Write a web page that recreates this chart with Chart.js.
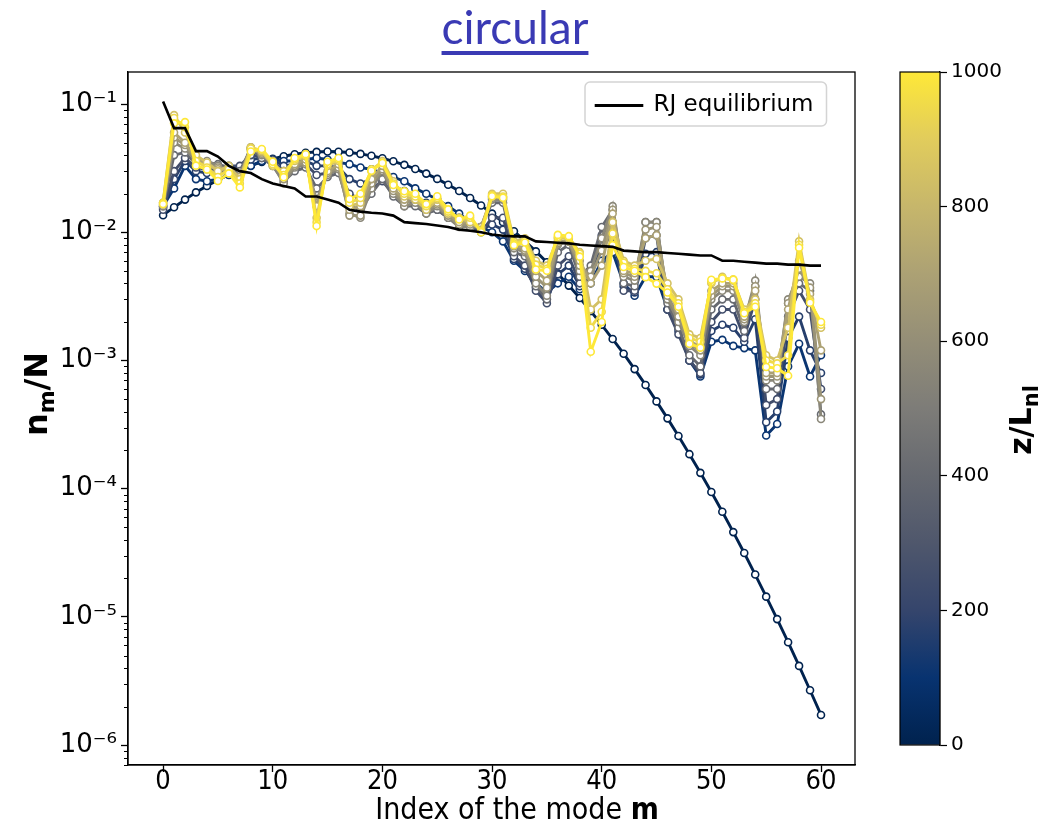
<!DOCTYPE html>
<html>
<head>
<meta charset="utf-8">
<script src="https://cdn.jsdelivr.net/npm/chart.js@4.4.1/dist/chart.umd.min.js"></script>
<style>
  body { margin: 0; background: #fff; }
  #wrap { position: relative; width: 1040px; height: 824px; }
  #title {
    position: absolute; left: 415px; top: -1px; width: 200px; text-align: center;
    font-family: Lato, 'Open Sans', sans-serif; font-size: 46px; color: #3a3ab4;
    text-decoration: underline; text-decoration-thickness: 4px; text-underline-offset: 7px;
  }
  #main { position: absolute; left: 0; top: 0; }
  #cbar { position: absolute; left: 880px; top: 0; }
</style>
</head>
<body>
<div id="wrap">
  <canvas id="main" width="880" height="824"></canvas>
  <canvas id="cbar" width="160" height="824"></canvas>
  <div id="title">circular</div>
</div>
<script>
// mode index m
const modes = [0,1,2,3,4,5,6,7,8,9,10,11,12,13,14,15,16,17,18,19,20,21,22,23,24,25,26,27,28,29,30,
  31,32,33,34,35,36,37,38,39,40,41,42,43,44,45,46,47,48,49,50,51,52,53,54,55,56,57,58,59,60];

// propagation distance z/L_nl of each curve
const zLevels = [0, 100, 175, 250, 400, 550, 625, 700, 850, 950, 1000];

// n_m/N, one array per z
const nZ0 = [0.0136,0.0157,0.0180,0.0205,0.0230,0.0256,0.0281,0.0307,0.0331,0.0354,0.0374,
  0.0392,0.0406,0.0417,0.0424,0.0427,0.0425,0.0419,0.0409,0.0395,0.0378,
  0.0358,0.0336,0.0312,0.0287,0.0261,0.0235,0.0210,0.0185,0.0162,0.0140,
  0.0120,0.0102,0.00854,0.00710,0.00584,0.00476,0.00384,0.00307,0.00243,0.00190,
  0.00147,0.00113,0.000857,0.000645,0.000480,0.000354,0.000258,0.000186,0.000133,0.0000944,
  0.0000661,0.0000459,0.0000315,0.0000214,0.0000144,0.00000962,0.00000635,0.00000415,0.00000268,0.00000172];
const nZ100 = [0.016,0.022,0.033,0.026,0.025,0.026,0.028,0.031,0.033,0.036,0.037,
  0.036,0.036,0.037,0.038,0.037,0.035,0.034,0.032,0.031,0.029,
  0.027,0.025,0.022,0.020,0.018,0.016,0.014,0.012,0.011,0.010,
  0.0085,0.0060,0.0050,0.0040,0.0034,0.0040,0.0045,0.0036,0.0040,0.0060,
  0.0070,0.0040,0.0032,0.0045,0.0045,0.0025,0.0018,0.0010,0.00075,0.0014,
  0.00145,0.0013,0.00125,0.0012,0.00026,0.00032,0.0009,0.00135,0.00075,0.0011];
const nZ175 = [0.0155,0.026,0.036,0.030,0.029,0.029,0.031,0.032,0.037,0.038,0.037,
  0.033,0.034,0.036,0.033,0.033,0.032,0.026,0.024,0.026,0.027,
  0.023,0.021,0.019,0.017,0.016,0.0145,0.013,0.0115,0.0105,0.0115,
  0.0105,0.0062,0.0052,0.0037,0.0030,0.0047,0.0055,0.0038,0.0045,0.0078,
  0.0095,0.0038,0.0034,0.0068,0.0070,0.0025,0.0017,0.0010,0.00078,0.0017,
  0.0019,0.0018,0.0014,0.0021,0.00033,0.0004,0.0015,0.0022,0.0012,0.0008];
const nZ250 = [0.015,0.030,0.038,0.032,0.031,0.031,0.033,0.033,0.040,0.039,0.036,
  0.030,0.032,0.034,0.028,0.029,0.030,0.020,0.018,0.022,0.025,
  0.020,0.018,0.017,0.015,0.015,0.013,0.012,0.011,0.010,0.013,
  0.013,0.0065,0.0055,0.0035,0.0028,0.0055,0.0065,0.0040,0.0050,0.0095,
  0.012,0.0035,0.0035,0.0090,0.0095,0.0025,0.0016,0.0010,0.0008,0.0020,
  0.0025,0.0025,0.0015,0.0030,0.00045,0.0005,0.0022,0.0035,0.0025,0.0006];
const nZ400 = [0.016,0.040,0.042,0.034,0.035,0.034,0.032,0.030,0.045,0.038,0.033,
  0.025,0.030,0.032,0.022,0.027,0.029,0.016,0.015,0.020,0.026,
  0.019,0.016,0.016,0.014,0.015,0.013,0.012,0.011,0.011,0.017,
  0.017,0.0070,0.0065,0.0038,0.0030,0.0070,0.0080,0.0045,0.0055,0.0110,
  0.015,0.0040,0.0038,0.012,0.012,0.0028,0.0018,0.0011,0.0009,0.0025,
  0.0030,0.0030,0.0017,0.0038,0.0006,0.0006,0.0028,0.0040,0.0035,0.00038];
const nZ550 = [0.016,0.050,0.045,0.036,0.036,0.033,0.030,0.028,0.046,0.040,0.034,
  0.024,0.032,0.034,0.018,0.028,0.031,0.014,0.013,0.022,0.030,
  0.020,0.016,0.017,0.014,0.016,0.013,0.011,0.011,0.011,0.018,
  0.018,0.0075,0.0070,0.0040,0.0032,0.0080,0.0085,0.0050,0.0050,0.0090,
  0.016,0.0045,0.0042,0.012,0.012,0.0030,0.0020,0.0013,0.0011,0.0030,
  0.0035,0.0035,0.0020,0.0042,0.0007,0.0007,0.0030,0.0045,0.0040,0.00035];
const nZ625 = [0.0165,0.055,0.048,0.037,0.034,0.032,0.031,0.027,0.045,0.041,0.035,
  0.026,0.033,0.035,0.017,0.029,0.032,0.0135,0.0135,0.024,0.031,
  0.021,0.017,0.018,0.015,0.0165,0.0135,0.0115,0.0115,0.011,0.0185,
  0.0185,0.0078,0.0072,0.0045,0.0037,0.0082,0.0085,0.0055,0.0045,0.0072,
  0.015,0.0048,0.0045,0.0105,0.011,0.0032,0.0022,0.00135,0.0012,0.0032,
  0.0038,0.0038,0.0021,0.0038,0.00075,0.00075,0.0028,0.0052,0.0037,0.0005];
const nZ700 = [0.017,0.060,0.050,0.038,0.033,0.031,0.030,0.027,0.044,0.042,0.036,
  0.028,0.034,0.037,0.016,0.030,0.034,0.015,0.016,0.026,0.033,
  0.022,0.018,0.019,0.016,0.017,0.014,0.012,0.012,0.011,0.019,
  0.019,0.0080,0.0075,0.0050,0.0042,0.0085,0.0085,0.0060,0.0040,0.0055,
  0.014,0.0050,0.0048,0.0090,0.0095,0.0035,0.0025,0.0014,0.0013,0.0035,
  0.0040,0.0040,0.0022,0.0035,0.0008,0.0008,0.0025,0.0060,0.0033,0.0012];
const nZ850 = [0.017,0.082,0.060,0.040,0.035,0.030,0.033,0.026,0.046,0.043,0.033,
  0.030,0.036,0.039,0.013,0.033,0.036,0.016,0.017,0.030,0.036,
  0.025,0.019,0.018,0.015,0.018,0.014,0.013,0.012,0.0105,0.020,
  0.020,0.0085,0.0090,0.0060,0.0055,0.0090,0.0090,0.0070,0.0025,0.0030,
  0.012,0.0060,0.0055,0.0060,0.0062,0.0040,0.0030,0.0016,0.0015,0.0040,
  0.0045,0.0042,0.0025,0.0030,0.0011,0.0010,0.0018,0.0085,0.0030,0.0018];
const nZ950 = [0.0170,0.078,0.066,0.036,0.032,0.027,0.031,0.024,0.045,0.044,0.034,
  0.028,0.037,0.040,0.0120,0.034,0.037,0.0170,0.0185,0.031,0.035,
  0.024,0.020,0.019,0.0160,0.0185,0.0145,0.0128,0.0130,0.0102,0.0195,
  0.0190,0.0082,0.0086,0.0056,0.0052,0.0092,0.0092,0.0068,0.0018,0.0024,
  0.0098,0.0058,0.0052,0.0050,0.0048,0.0036,0.0028,0.0015,0.0014,0.0041,
  0.0044,0.0043,0.0024,0.0028,0.0010,0.00095,0.0011,0.0080,0.0029,0.0019];
const nZ1000 = [0.0166,0.0708,0.0724,0.0331,0.0309,0.0251,0.0288,0.0224,0.0427,0.0447,0.0355,
  0.0269,0.0380,0.0407,0.0112,0.0355,0.0380,0.0182,0.0200,0.0302,0.0347,
  0.0234,0.0209,0.0200,0.0166,0.0191,0.0151,0.0126,0.0135,0.0100,0.0191,
  0.0186,0.00794,0.00832,0.00513,0.00501,0.00955,0.00933,0.00646,0.00117,0.00200,
  0.00794,0.00537,0.00501,0.00447,0.00398,0.00339,0.00263,0.00135,0.00126,0.00427,
  0.00437,0.00427,0.00234,0.00263,0.00089,0.00087,0.00076,0.00759,0.00282,0.00200];

// Rayleigh-Jeans equilibrium
const nRJ = [0.105,0.065,0.065,0.043,0.043,0.039,0.033,0.030,0.029,0.026,0.024,
  0.023,0.022,0.019,0.019,0.018,0.017,0.0150,0.0145,0.0142,0.0140,
  0.0135,0.0120,0.0118,0.0116,0.0113,0.0110,0.0105,0.0103,0.0100,0.0096,
  0.0094,0.0093,0.0093,0.0085,0.0084,0.0083,0.0082,0.0080,0.0079,0.0078,
  0.0077,0.0072,0.0071,0.0070,0.0070,0.0069,0.0068,0.0067,0.0066,0.0066,
  0.0060,0.0060,0.0059,0.0058,0.0057,0.0057,0.0056,0.0056,0.0055,0.0055];

const xTicks = [0, 10, 20, 30, 40, 50, 60];
const yTicks = [1e-6, 1e-5, 1e-4, 1e-3, 1e-2, 1e-1];
const yTickLabels = ['10⁻⁶', '10⁻⁵', '10⁻⁴', '10⁻³', '10⁻²', '10⁻¹'];
const cbarTicks = [0, 200, 400, 600, 800, 1000];

const zSeries = [nZ0, nZ100, nZ175, nZ250, nZ400, nZ550, nZ625, nZ700, nZ850, nZ950, nZ1000];
// cividis
const cividis = ['#00224e','#083370','#35456c','#4f576c','#666970','#7d7c78',
  '#948e77','#aca174','#c6b66b','#e1cc5c','#fee838'];
const zColors = ['#00224e','#0a3571','#263f6c','#414d6b','#666970','#8a8779','#9b9477',
  '#aca174','#d3c164','#efda4b','#fee838'];

const NARROW = "'Liberation Sans Narrow', 'DejaVu Sans Condensed', 'DejaVu Sans', sans-serif";
Chart.defaults.font.family = "'DejaVu Sans', sans-serif";
Chart.defaults.color = '#000';

const toXY = arr => modes.map((m, i) => ({ x: m, y: arr[i] }));

const datasets = [{
  label: 'RJ equilibrium',
  data: toXY(nRJ),
  borderColor: '#000',
  backgroundColor: '#000',
  borderWidth: 2.6,
  pointRadius: 0
}];
// matplotlib draws later z on top; chart.js draws first dataset on top
for (let k = zLevels.length - 1; k >= 0; k--) {
  datasets.push({
    label: 'z = ' + zLevels[k],
    data: toXY(zSeries[k]),
    borderColor: zColors[k],
    backgroundColor: '#fff',
    borderWidth: 2.9,
    pointRadius: 3.5,
    pointBorderWidth: 1.6,
    pointBackgroundColor: '#fff',
    pointBorderColor: zColors[k]
  });
}

const LEG_PAD = 22;

const frame = {
  id: 'frame',
  afterLayout(chart) {
    // move the legend to the upper right corner of the axes
    chart.legend.left = 574;
    chart.legend.top = chart.chartArea.top;
  },
  afterDraw(chart) {
    const { ctx, chartArea: a, scales } = chart;
    ctx.save();
    ctx.strokeStyle = '#000';
    ctx.lineWidth = 1.3;
    ctx.strokeRect(a.left, a.top, a.right - a.left, a.bottom - a.top);
    // minor log ticks
    const y = scales.y;
    ctx.lineWidth = 1;
    for (let e = -7; e <= -1; e++) {
      for (let k = 2; k <= 9; k++) {
        const v = k * Math.pow(10, e);
        if (v < y.min || v > y.max) continue;
        const py = Math.round(y.getPixelForValue(v)) + 0.5;
        ctx.beginPath();
        ctx.moveTo(a.left - 4, py);
        ctx.lineTo(a.left, py);
        ctx.stroke();
      }
    }
    // legend frame
    const lg = chart.legend;
    if (lg && lg.legendHitBoxes.length) {
      const h = lg.legendHitBoxes[0];
      const bx = lg.left + LEG_PAD - 11, by = lg.top + LEG_PAD - 12;
      const bw = h.width + 24, bh = 44;
      ctx.strokeStyle = '#d4d4d4';
      ctx.lineWidth = 1.5;
      ctx.beginPath();
      ctx.roundRect(bx, by, bw, bh, 5);
      ctx.stroke();
    }
    // axis titles
    ctx.fillStyle = '#000';
    ctx.textBaseline = 'alphabetic';
    ctx.textAlign = 'left';
    const xt1 = 'Index of the mode ', xt2 = 'm';
    ctx.font = '30px ' + NARROW;
    const w1 = ctx.measureText(xt1).width;
    ctx.font = 'bold 30px ' + NARROW;
    const w2 = ctx.measureText(xt2).width;
    const sx = 517 - (w1 + w2) / 2;
    ctx.font = '30px ' + NARROW;
    ctx.fillText(xt1, sx, 819);
    ctx.font = 'bold 30px ' + NARROW;
    ctx.fillText(xt2, sx + w1, 819);

    ctx.translate(47, 394);
    ctx.rotate(-Math.PI / 2);
    const big = "bold 32px 'DejaVu Sans'", sub = "bold 22px 'DejaVu Sans'";
    ctx.font = big; const a1 = ctx.measureText('n').width, a3 = ctx.measureText('/N').width;
    ctx.font = sub; const a2 = ctx.measureText('m').width;
    const px = -(a1 + a2 + a3) / 2;
    ctx.font = big; ctx.fillText('n', px, 0);
    ctx.font = sub; ctx.fillText('m', px + a1, 7);
    ctx.font = big; ctx.fillText('/N', px + a1 + a2, 0);
    ctx.restore();
  }
};

new Chart(document.getElementById('main'), {
  type: 'line',
  data: { datasets },
  options: {
    responsive: false,
    devicePixelRatio: 1,
    animation: false,
    layout: { padding: { top: 72, right: 25, left: 0, bottom: 0 } },
    plugins: {
      legend: {
        position: 'chartArea',
        align: 'start',
        labels: {
          filter: item => item.text === 'RJ equilibrium',
          boxWidth: 46,
          boxHeight: 0.5,
          padding: LEG_PAD,
          font: { size: 23 },
          color: '#000'
        }
      },
      tooltip: { enabled: false }
    },
    scales: {
      x: {
        type: 'linear',
        min: -3.2,
        max: 63.1,
        afterBuildTicks: s => { s.ticks = xTicks.map(v => ({ value: v })); },
        afterFit: s => { s.height = 59; },
        ticks: { font: { size: 27, family: NARROW }, color: '#000', padding: -6, maxRotation: 0, autoSkip: false },
        grid: { drawOnChartArea: false, tickLength: 7, tickColor: '#000', tickWidth: 1.3 },
        border: { color: '#000', width: 1.3 }
      },
      y: {
        type: 'logarithmic',
        min: 7e-7,
        max: 0.178,
        afterBuildTicks: s => { s.ticks = yTicks.map(v => ({ value: v, major: true })); },
        afterFit: s => { s.width = 128; },
        ticks: {
          callback: (v, i) => yTickLabels[i],
          font: { size: 26 },
          color: '#000',
          padding: 4,
          autoSkip: false
        },
        grid: { drawOnChartArea: false, tickLength: 7, tickColor: '#000', tickWidth: 1.3 },
        border: { color: '#000', width: 1.3 }
      }
    }
  },
  plugins: [frame]
});

// colorbar
const cbarFrame = {
  id: 'cbarFrame',
  afterDraw(chart) {
    const { ctx, chartArea: a } = chart;
    ctx.save();
    ctx.strokeStyle = '#000';
    ctx.lineWidth = 1.2;
    ctx.strokeRect(a.left, a.top, a.right - a.left, a.bottom - a.top);
    ctx.fillStyle = '#000';
    ctx.translate(151, 420);
    ctx.rotate(-Math.PI / 2);
    const big = "bold 30px 'DejaVu Sans'", sub = "bold 21px 'DejaVu Sans'";
    ctx.font = big; const a1 = ctx.measureText('z/L').width;
    ctx.font = sub; const a2 = ctx.measureText('nl').width;
    const px = -(a1 + a2) / 2;
    ctx.font = big; ctx.fillText('z/L', px, 0);
    ctx.font = sub; ctx.fillText('nl', px + a1, 7);
    ctx.restore();
  }
};

new Chart(document.getElementById('cbar'), {
  type: 'bar',
  data: {
    labels: ['z'],
    datasets: [{
      data: [zLevels[zLevels.length - 1]],
      barPercentage: 1,
      categoryPercentage: 1,
      borderWidth: 0,
      backgroundColor: ctx => {
        const a = ctx.chart.chartArea;
        if (!a) return cividis[5];
        const g = ctx.chart.ctx.createLinearGradient(0, a.bottom, 0, a.top);
        cividis.forEach((c, i) => g.addColorStop(i / (cividis.length - 1), c));
        return g;
      }
    }]
  },
  options: {
    responsive: false,
    devicePixelRatio: 1,
    animation: false,
    layout: { padding: { top: 72, bottom: 79, left: 20, right: 0 } },
    plugins: { legend: { display: false }, tooltip: { enabled: false } },
    scales: {
      x: { display: false },
      y: {
        position: 'right',
        min: 0,
        max: 1000,
        afterBuildTicks: s => { s.ticks = cbarTicks.map(v => ({ value: v })); },
        afterFit: s => { s.width = 100; },
        ticks: { callback: v => String(v), font: { size: 20 }, color: '#000', padding: 4 },
        grid: { drawOnChartArea: false, tickLength: 7, tickColor: '#000', tickWidth: 1.2 },
        border: { color: '#000', width: 1.2 }
      }
    }
  },
  plugins: [cbarFrame]
});
</script>
</body>
</html>
